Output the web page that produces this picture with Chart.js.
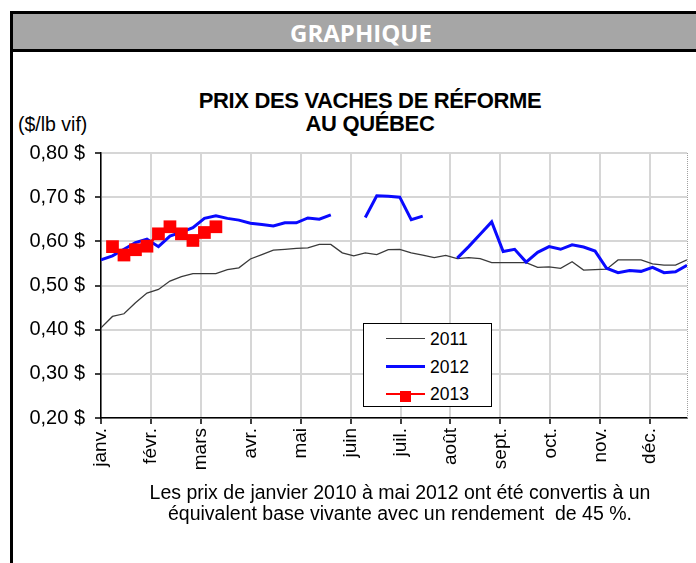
<!DOCTYPE html>
<html lang="fr">
<head>
<meta charset="utf-8">
<title>Prix des vaches de réforme au Québec</title>
<script src="https://cdn.jsdelivr.net/npm/chart.js@4.4.1/dist/chart.umd.min.js"></script>
<style>
  html, body { margin: 0; padding: 0; background: #fff; }
  body { width: 696px; height: 563px; position: relative; overflow: hidden;
         font-family: 'Liberation Sans', Arial, sans-serif; color: #000; }
  .frame { position: absolute; left: 10px; top: 11px; width: 720px; height: 600px;
           border-left: 3px solid #000; border-top: 3px solid #000; }
  .band { position: absolute; left: 13px; top: 14px; width: 700px; height: 35px;
          background: #a6a6a6; border-bottom: 3px solid #000; }
  .band span { position: absolute; left: 0; width: 696px; top: 2px; text-align: center;
               color: #fff; font: bold 24px 'Open Sans', 'Liberation Sans', sans-serif; }
  .title { position: absolute; left: 120px; width: 500px; top: 89px; text-align: center;
           font: bold 22px 'Liberation Sans', Arial, sans-serif; line-height: 23px; letter-spacing: -0.35px; }
  .unit { position: absolute; left: 18px; top: 113px; font-size: 19.5px; }
  .note { position: absolute; left: 50px; width: 700px; top: 482px; text-align: center;
          font-size: 19.5px; line-height: 21px; }
  #chart { position: absolute; left: 0; top: 0; }
  .legend { position: absolute; left: 363px; top: 323px; width: 127px; height: 82px;
            background: #fff; border: 1.5px solid #000; }
  .legend .row { position: absolute; left: 0; height: 24px; width: 127px; }
  .legend .swatch { position: absolute; left: 22px; top: 11px; width: 39px; }
  .legend .mark { position: absolute; left: 14px; width: 11px; height: 11px; }
  .legend .lbl { position: absolute; left: 66px; top: 2px; font-size: 17.5px; }
</style>
</head>
<body>
<div class="frame"></div>
<div class="band"><span>GRAPHIQUE</span></div>
<div class="title">PRIX DES VACHES DE RÉFORME<br>AU QUÉBEC</div>
<div class="unit">($/lb vif)</div>
<canvas id="chart" width="696" height="563"></canvas>
<div class="legend" id="legend"></div>
<div class="note">Les prix de janvier 2010 à mai 2012 ont été convertis à un<br>équivalent base vivante avec un rendement&nbsp; de 45 %.</div>

<script>
'use strict';

// ── data : weekly prices ($/lb live), one value per week of the year ──
const MONTHS = ['janv.', 'févr.', 'mars', 'avr.', 'mai', 'juin',
                'juil.', 'août', 'sept.', 'oct.', 'nov.', 'déc.'];

const PRICES_2011 = [
  0.404, 0.430, 0.436, 0.461, 0.483, 0.491, 0.510, 0.520, 0.527, 0.527,
  0.527, 0.536, 0.540, 0.560, 0.570, 0.580, 0.582, 0.584, 0.585, 0.593,
  0.593, 0.574, 0.567, 0.574, 0.570, 0.581, 0.582, 0.574, 0.569, 0.563,
  0.568, 0.561, 0.563, 0.561, 0.552, 0.552, 0.552, 0.552, 0.541, 0.542,
  0.539, 0.554, 0.535, 0.536, 0.537, 0.558, 0.558, 0.558, 0.549, 0.546,
  0.546, 0.558
];

const PRICES_2012 = [
  0.558, 0.567, 0.582, 0.597, 0.605, 0.588, 0.612, 0.621, 0.631, 0.652,
  0.658, 0.652, 0.648, 0.641, 0.638, 0.635, 0.642, 0.642, 0.653, 0.650,
  0.660, null, null, 0.654, 0.703, 0.702, 0.700, 0.649, 0.657, null,
  null, 0.562, 0.588, 0.616, 0.644, 0.577, 0.582, 0.553, 0.575, 0.588,
  0.582, 0.592, 0.587, 0.578, 0.539, 0.529, 0.534, 0.532, 0.541, 0.529,
  0.531, 0.546
];

const PRICES_2013 = [
  null, 0.588, 0.569, 0.581, 0.589, 0.617, 0.633, 0.617, 0.602, 0.620,
  0.633
];

const Y_MIN = 0.20;
const Y_MAX = 0.80;
const Y_STEP = 0.10;
const WEEKS_PER_MONTH = 365 / 7 / 12;

// weekly series -> {x: week, y: price}
const toPoints = arr => arr.map((v, i) => ({ x: i, y: v }));

const frenchDollar = v => v.toFixed(2).replace('.', ',') + ' $';

/* ─────────────────────────────────────────────────
   plot frame : thin grey right edge like the original
───────────────────────────────────────────────── */
const frameEdge = {
  id: 'frameEdge',
  beforeDatasetsDraw(chart) {
    const { ctx, chartArea: a } = chart;
    ctx.save();
    ctx.strokeStyle = '#a0a0a0';
    ctx.lineWidth = 1;
    ctx.setLineDash([1, 1]);
    ctx.beginPath();
    ctx.moveTo(a.right + 0.5, a.top);
    ctx.lineTo(a.right + 0.5, a.bottom);
    ctx.stroke();
    ctx.restore();
  }
};

const chart = new Chart(document.getElementById('chart'), {
  type: 'line',
  data: {
    datasets: [
      {
        label: '2011',
        data: toPoints(PRICES_2011),
        borderColor: '#3a3a3a',
        borderWidth: 1.3,
        pointRadius: 0,
        tension: 0,
        order: 3,
      },
      {
        label: '2012',
        data: toPoints(PRICES_2012),
        borderColor: '#0a0aff',
        borderWidth: 3,
        pointRadius: 0,
        tension: 0,
        spanGaps: false,
        order: 2,
      },
      {
        label: '2013',
        data: toPoints(PRICES_2013),
        borderColor: '#ff0000',
        backgroundColor: '#ff0000',
        borderWidth: 2.5,
        pointStyle: 'rect',
        pointRadius: 9,
        pointBorderWidth: 0,
        tension: 0,
        order: 1,
      },
    ],
  },
  options: {
    responsive: false,
    animation: false,
    events: [],
    layout: { padding: { top: 153, right: 4, bottom: 85, left: 0 } },
    plugins: {
      legend: { display: false },
      tooltip: { enabled: false },
    },
    scales: {
      x: {
        type: 'linear',
        min: 0,
        max: PRICES_2011.length - 1,
        afterBuildTicks: axis => {
          axis.ticks = MONTHS.map((m, i) => ({ value: i * WEEKS_PER_MONTH }));
        },
        afterFit: axis => { axis.height = 60; },
        ticks: {
          callback: (v, i) => MONTHS[i],
          minRotation: 90,
          maxRotation: 90,
          autoSkip: false,
          color: '#000',
          padding: 4,
          font: { family: "'Liberation Sans', Arial, sans-serif", size: 19 },
        },
        grid: { color: '#d6d6d6', lineWidth: 2, tickColor: '#000', tickLength: 6, tickWidth: 1.5 },
        border: { color: '#000', width: 1.5 },
      },
      y: {
        min: Y_MIN,
        max: Y_MAX,
        afterFit: axis => { axis.width = 101; },
        ticks: {
          stepSize: Y_STEP,
          callback: v => frenchDollar(v),
          color: '#000',
          padding: 10,
          font: { family: "'Liberation Sans', Arial, sans-serif", size: 20 },
        },
        grid: { color: '#d6d6d6', lineWidth: 2, tickColor: '#000', tickLength: 6, tickWidth: 1.5 },
        border: { color: '#000', width: 1.5 },
      },
    },
  },
  plugins: [frameEdge],
});

/* ─────────────────────────────────────────────────
   legend box (inside the plot, as in the original)
───────────────────────────────────────────────── */
(function buildLegend() {
  const box = document.getElementById('legend');
  chart.data.datasets.forEach((ds, i) => {
    const row = document.createElement('div');
    row.className = 'row';
    row.style.top = (3 + i * 27.5) + 'px';

    const sw = document.createElement('div');
    sw.className = 'swatch';
    sw.style.borderTop = Math.max(1, ds.borderWidth) + 'px solid ' + ds.borderColor;
    sw.style.top = (12 - Math.max(1, ds.borderWidth) / 2) + 'px';
    row.appendChild(sw);

    if (ds.pointRadius > 0) {
      const mk = document.createElement('div');
      mk.className = 'mark';
      mk.style.background = ds.backgroundColor;
      mk.style.top = (-5.5 + Math.max(1, ds.borderWidth) / 2) + 'px';
      sw.appendChild(mk);
    }

    const lbl = document.createElement('div');
    lbl.className = 'lbl';
    lbl.textContent = ds.label;
    row.appendChild(lbl);
    box.appendChild(row);
  });
})();
</script>
</body>
</html>
